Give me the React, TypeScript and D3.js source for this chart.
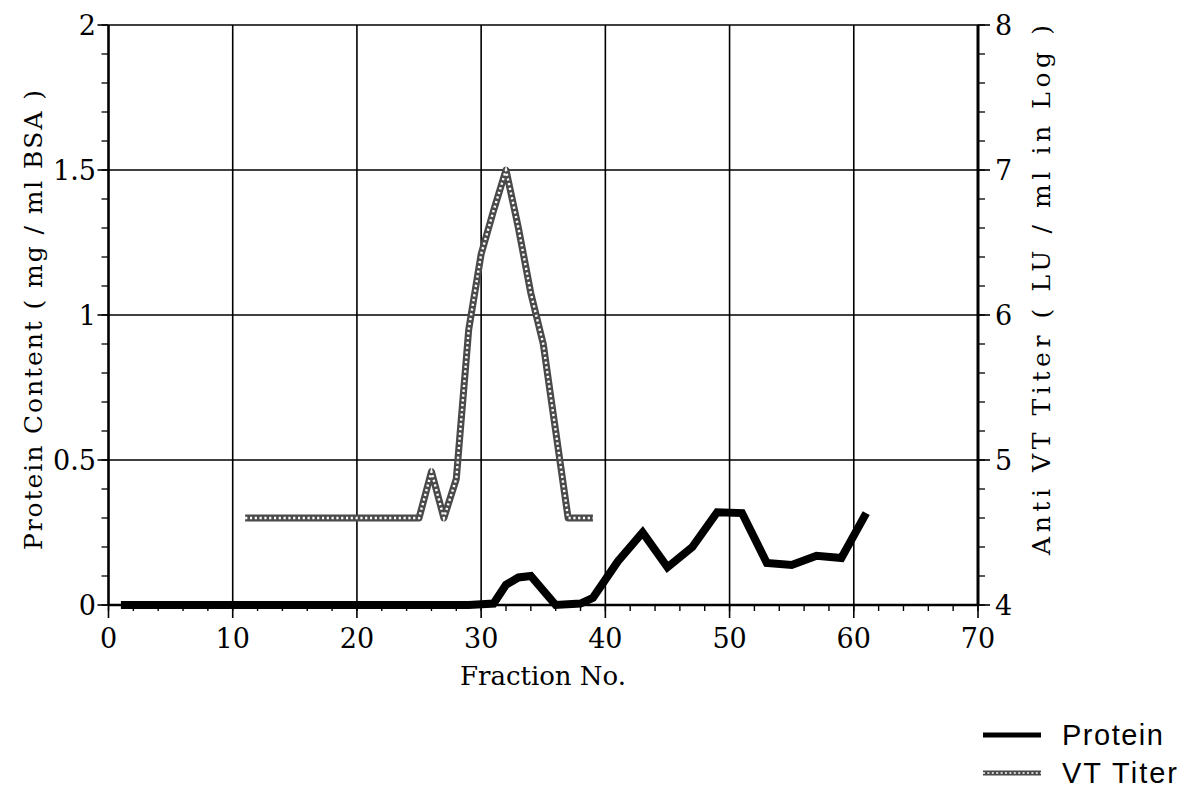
import React from "react";
import * as d3 from "d3";

const proteinFraction = [1, 3, 5, 7, 9, 11, 13, 15, 17, 19, 21, 23, 25, 27, 29, 31, 32, 33, 34, 36, 38, 39, 41, 43, 45, 47, 49, 51, 53, 55, 57, 59, 61];
const proteinValue = [0, 0, 0, 0, 0, 0, 0, 0, 0, 0, 0, 0, 0, 0, 0, 0.005, 0.07, 0.095, 0.1, 0, 0.005, 0.025, 0.15, 0.25, 0.13, 0.2, 0.32, 0.317, 0.145, 0.138, 0.17, 0.162, 0.317];

const titerFraction = [11, 12, 13, 14, 15, 16, 17, 18, 19, 20, 21, 22, 23, 24, 25, 26, 27, 28, 29, 30, 31, 32, 33, 34, 35, 36, 37, 38, 39];
const titerValue = [4.6, 4.6, 4.6, 4.6, 4.6, 4.6, 4.6, 4.6, 4.6, 4.6, 4.6, 4.6, 4.6, 4.6, 4.6, 4.92, 4.6, 4.87, 5.9, 6.42, 6.72, 7.0, 6.6, 6.15, 5.8, 5.2, 4.6, 4.6, 4.6];

const xTicks = [0, 10, 20, 30, 40, 50, 60, 70];
const leftTicks = [0, 0.5, 1, 1.5, 2];
const leftTickLabels = ["0", "0.5", "1", "1.5", "2"];
const rightTicks = [4, 5, 6, 7, 8];

const serif = "'DejaVu Serif', 'Liberation Serif', serif";
const sans = "'Liberation Sans', Arial, sans-serif";

export default function App() {
  const x = d3.scaleLinear().domain([0, 70]).range([108.5, 978]);
  const yL = d3.scaleLinear().domain([0, 2]).range([605, 25]);
  const yR = d3.scaleLinear().domain([4, 8]).range([605, 25]);

  const proteinLine = d3
    .line<number>()
    .x((_, i) => x(proteinFraction[i]))
    .y((d) => yL(d));
  const titerLine = d3
    .line<number>()
    .x((_, i) => x(titerFraction[i]))
    .y((d) => yR(d));

  const xMinor = d3.range(0, 70.001, 2);
  const lMinor = d3.range(0, 2.0001, 0.1);
  const rMinor = d3.range(4, 8.0001, 0.2);

  return (
    <svg width={1193} height={797} style={{ position: "absolute", left: 0, top: 0, background: "#fff" }}>
      {/* grid */}
      {xTicks.slice(1, -1).map((t) => (
        <line key={"gx" + t} x1={x(t)} x2={x(t)} y1={yL(2)} y2={yL(0)} stroke="#000" strokeWidth={1.6} />
      ))}
      {leftTicks.slice(1).map((t) => (
        <line key={"gy" + t} x1={x(0)} x2={x(70)} y1={yL(t)} y2={yL(t)} stroke="#000" strokeWidth={1.6} />
      ))}
      {/* axes */}
      <line x1={x(0)} x2={x(0)} y1={yL(2)} y2={yL(0)} stroke="#000" strokeWidth={2.6} />
      <line x1={x(70)} x2={x(70)} y1={yL(2)} y2={yL(0)} stroke="#000" strokeWidth={3} />
      <line x1={x(0)} x2={x(70)} y1={yL(0)} y2={yL(0)} stroke="#000" strokeWidth={2.4} />
      {/* x ticks */}
      {xMinor.map((t) => (
        <line key={"xm" + t} x1={x(t)} x2={x(t)} y1={yL(0)} y2={yL(0) + 6} stroke="#000" strokeWidth={1.4} />
      ))}
      {xTicks.map((t) => (
        <g key={"xt" + t}>
          <line x1={x(t)} x2={x(t)} y1={yL(0)} y2={yL(0) + 13} stroke="#000" strokeWidth={1.6} />
          <text x={x(t)} y={648} textAnchor="middle" fontFamily={serif} fontSize={27} fontWeight={300}>
            {t}
          </text>
        </g>
      ))}
      {/* left ticks */}
      {lMinor.map((t) => (
        <line key={"lm" + t} x1={x(0) - 7} x2={x(0)} y1={yL(t)} y2={yL(t)} stroke="#000" strokeWidth={1.3} />
      ))}
      {leftTicks.map((t, i) => (
        <g key={"lt" + t}>
          <line x1={x(0) - 11} x2={x(0)} y1={yL(t)} y2={yL(t)} stroke="#000" strokeWidth={1.6} />
          <text x={96} y={yL(t) + 10} textAnchor="end" fontFamily={serif} fontSize={27} fontWeight={300}>
            {leftTickLabels[i]}
          </text>
        </g>
      ))}
      {/* right ticks */}
      {rMinor.map((t) => (
        <line key={"rm" + t} x1={x(70)} x2={x(70) + 7} y1={yR(t)} y2={yR(t)} stroke="#000" strokeWidth={1.3} />
      ))}
      {rightTicks.map((t) => (
        <g key={"rt" + t}>
          <line x1={x(70)} x2={x(70) + 12} y1={yR(t)} y2={yR(t)} stroke="#000" strokeWidth={1.6} />
          <text x={995} y={yR(t) + 10} textAnchor="start" fontFamily={serif} fontSize={27} fontWeight={300}>
            {t}
          </text>
        </g>
      ))}
      {/* axis titles */}
      <text x={543} y={685} textAnchor="middle" fontFamily={serif} fontSize={26}>
        Fraction No.
      </text>
      <text
        transform={`translate(42,320) rotate(-90)`}
        textAnchor="middle"
        fontFamily={serif}
        fontSize={25}
        textLength={460}
        lengthAdjust="spacing"
      >
        Protein Content ( mg / ml BSA )
      </text>
      <text
        transform={`translate(1050,290) rotate(-90)`}
        textAnchor="middle"
        fontFamily={serif}
        fontSize={25}
        textLength={530}
        lengthAdjust="spacing"
      >
        Anti VT Titer ( LU / ml in Log )
      </text>
      {/* titer line */}
      <path d={titerLine(titerValue) || ""} fill="none" stroke="#4a4a4a" strokeWidth={7} strokeLinejoin="round" />
      <path d={titerLine(titerValue) || ""} fill="none" stroke="#fff" strokeWidth={2.4} strokeDasharray="2.2 2.6" />
      {/* protein line */}
      <path d={proteinLine(proteinValue) || ""} fill="none" stroke="#000" strokeWidth={8} strokeLinejoin="miter" />
      {/* legend */}
      <line x1={983} x2={1041} y1={735} y2={735} stroke="#000" strokeWidth={5} />
      <text x={1062} y={745} fontFamily={sans} fontSize={29} letterSpacing={1.5}>
        Protein
      </text>
      <line x1={983} x2={1041} y1={773} y2={773} stroke="#4a4a4a" strokeWidth={5} />
      <line x1={983} x2={1041} y1={773} y2={773} stroke="#fff" strokeWidth={1.6} strokeDasharray="2 2.4" />
      <text x={1062} y={783} fontFamily={sans} fontSize={29} letterSpacing={2}>
        VT Titer
      </text>
    </svg>
  );
}
